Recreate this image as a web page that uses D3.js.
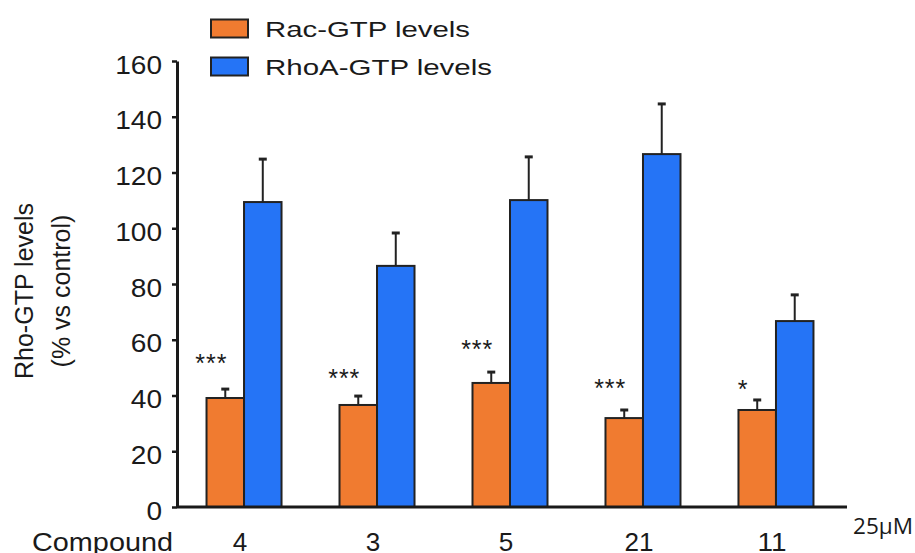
<!DOCTYPE html>
<html>
<head>
<meta charset="utf-8">
<script src="https://cdn.jsdelivr.net/npm/d3@7"></script>
<style>
  body { margin: 0; background: #fff; }
  text { font-family: "Liberation Sans", Arial, sans-serif; fill: #1a1a1a; }
</style>
</head>
<body>
<div id="chart"></div>
<script>
// Data
var compounds = ["4", "3", "5", "21", "11"];
var racValues = [39.1, 36.6, 44.5, 31.9, 34.8];
var racErrors = [3.2, 3.2, 3.9, 2.9, 3.6];
var rhoValues = [109.4, 86.5, 110.1, 126.6, 66.7];
var rhoErrors = [15.4, 11.8, 15.5, 18.0, 9.4];
var stars = ["***", "***", "***", "***", "*"];
var starLevels = [53.5, 48, 58.5, 44.5, 44];
var yTicks = [0, 20, 40, 60, 80, 100, 120, 140, 160];
var seriesNames = ["Rac-GTP levels", "RhoA-GTP levels"];

var colorRac = "#f07b30";
var colorRho = "#2574f6";

var W = 915, H = 553;
var margin = { top: 61, right: 68, bottom: 46, left: 177 };
var width = W - margin.left - margin.right,
    height = H - margin.top - margin.bottom;

var svg = d3.select("#chart")
    .append("svg")
    .attr("width", W)
    .attr("height", H);

var g = svg.append("g")
    .attr("transform", "translate(" + margin.left + "," + margin.top + ")");

// Scales
var x = d3.scaleBand()
    .domain(compounds)
    .range([0, 666])
    .paddingInner(0.436)
    .paddingOuter(0.222);

var y = d3.scaleLinear()
    .domain([0, 160])
    .range([height, 0]);

var bw = x.bandwidth() / 2;

// Y axis
var yAxis = g.append("g")
    .call(d3.axisLeft(y).tickValues(yTicks).tickSize(5).tickSizeOuter(0).tickPadding(10));
yAxis.select(".domain").attr("stroke", "#1a1a1a").attr("stroke-width", 3);
yAxis.selectAll(".tick line").attr("stroke", "#1a1a1a").attr("stroke-width", 2.5);
yAxis.selectAll(".tick text")
    .style("font-size", "25px")
    .style("font-family", "Liberation Sans, Arial, sans-serif")
    .attr("fill", "#1a1a1a")
    .attr("dy", "0.48em")
    .attr("lengthAdjust", "spacingAndGlyphs")
    .attr("textLength", function (d) { return String(d).length * 15.6; });

// Bars
function drawSeries(vals, errs, offset, color, cls) {
    var grp = g.append("g").attr("class", cls);
    grp.selectAll("rect")
        .data(vals)
        .enter()
        .append("rect")
        .attr("x", function (d, i) { return x(compounds[i]) + offset; })
        .attr("y", function (d) { return y(d); })
        .attr("width", bw)
        .attr("height", function (d) { return height - y(d); })
        .attr("fill", color)
        .attr("stroke", "#222")
        .attr("stroke-width", 2);

    // error bars
    grp.selectAll("line.err")
        .data(vals)
        .enter()
        .append("line")
        .attr("class", "err")
        .attr("x1", function (d, i) { return x(compounds[i]) + offset + bw / 2; })
        .attr("x2", function (d, i) { return x(compounds[i]) + offset + bw / 2; })
        .attr("y1", function (d) { return y(d); })
        .attr("y2", function (d, i) { return y(d + errs[i]); })
        .attr("stroke", "#222")
        .attr("stroke-width", 2);
    grp.selectAll("line.cap")
        .data(vals)
        .enter()
        .append("line")
        .attr("class", "cap")
        .attr("x1", function (d, i) { return x(compounds[i]) + offset + bw / 2 - 4; })
        .attr("x2", function (d, i) { return x(compounds[i]) + offset + bw / 2 + 4; })
        .attr("y1", function (d, i) { return y(d + errs[i]); })
        .attr("y2", function (d, i) { return y(d + errs[i]); })
        .attr("stroke", "#222")
        .attr("stroke-width", 3);
}
drawSeries(racValues, racErrors, 0, colorRac, "rac");
drawSeries(rhoValues, rhoErrors, bw, colorRho, "rho");

// Significance stars
g.selectAll("text.star")
    .data(stars)
    .enter()
    .append("text")
    .attr("class", "star")
    .attr("x", function (d, i) { return x(compounds[i]) + bw / 2 - 14; })
    .attr("y", function (d, i) { return y(starLevels[i]) + 14; })
    .attr("text-anchor", "middle")
    .style("font-size", "25px")
    .style("letter-spacing", "1px")
    .text(function (d) { return d; });

// X axis line (no ticks)
g.append("line")
    .attr("x1", 0)
    .attr("x2", width)
    .attr("y1", height)
    .attr("y2", height)
    .attr("stroke", "#1a1a1a")
    .attr("stroke-width", 3);

// Compound labels
g.selectAll("text.cmp")
    .data(compounds)
    .enter()
    .append("text")
    .attr("class", "cmp")
    .attr("x", function (d) { return x(d) + bw - 4; })
    .attr("y", height + 44)
    .attr("text-anchor", "middle")
    .style("font-size", "25px")
    .attr("lengthAdjust", "spacingAndGlyphs")
    .attr("textLength", function (d) { return d.length * 14.5; })
    .text(function (d) { return d; });

svg.append("text")
    .attr("x", 32)
    .attr("y", margin.top + height + 44)
    .style("font-size", "25px")
    .attr("lengthAdjust", "spacingAndGlyphs")
    .attr("textLength", 141)
    .text("Compound");

svg.append("text")
    .attr("x", 853)
    .attr("y", 534)
    .style("font-size", "21px")
    .style("font-family", "Open Sans, sans-serif")
    .attr("lengthAdjust", "spacingAndGlyphs")
    .attr("textLength", 60)
    .text("25\u00b5M");

// Y axis title
var yt = svg.append("text")
    .attr("transform", "translate(33,291) rotate(-90)")
    .attr("text-anchor", "middle")
    .style("font-size", "25px");
yt.append("tspan").attr("x", 0).attr("dy", 0).text("Rho-GTP levels");
yt.append("tspan").attr("x", 0).attr("dy", 37).text("(% vs control)");

// Legend
var legColors = [colorRac, colorRho];
var legWidths = [205, 227];
var leg = svg.append("g").attr("class", "legend");
leg.selectAll("rect")
    .data(seriesNames)
    .enter()
    .append("rect")
    .attr("x", 211)
    .attr("y", function (d, i) { return 19.5 + i * 38; })
    .attr("width", 37)
    .attr("height", 18)
    .attr("fill", function (d, i) { return legColors[i]; })
    .attr("stroke", "#222")
    .attr("stroke-width", 2);
leg.selectAll("text")
    .data(seriesNames)
    .enter()
    .append("text")
    .attr("x", 265)
    .attr("y", function (d, i) { return 37 + i * 38; })
    .style("font-size", "22px")
    .attr("lengthAdjust", "spacingAndGlyphs")
    .attr("textLength", function (d, i) { return legWidths[i]; })
    .text(function (d) { return d; });
</script>
</body>
</html>
